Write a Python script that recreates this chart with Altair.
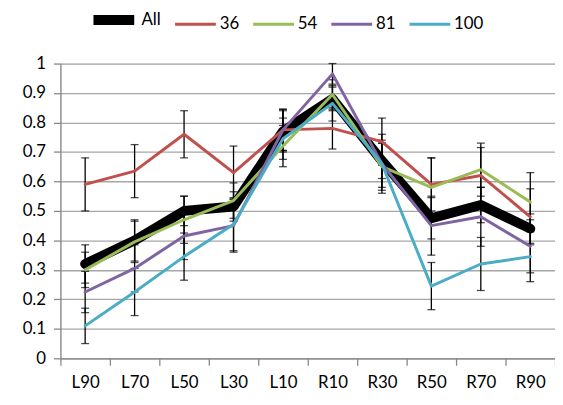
import altair as alt
import pandas as pd

categories = ["L90", "L70", "L50", "L30", "L10", "R10", "R30", "R50", "R70", "R90"]
series_names = ["All", "36", "54", "81", "100"]

vals_all = [0.32, 0.40, 0.50, 0.515, 0.77, 0.88, 0.67, 0.475, 0.52, 0.44]
vals_36 = [0.59, 0.635, 0.76, 0.63, 0.775, 0.78, 0.735, 0.59, 0.62, 0.48]
vals_54 = [0.30, 0.395, 0.47, 0.535, 0.72, 0.895, 0.65, 0.58, 0.64, 0.53]
vals_81 = [0.225, 0.305, 0.415, 0.45, 0.775, 0.965, 0.66, 0.45, 0.48, 0.38]
vals_100 = [0.11, 0.225, 0.345, 0.455, 0.745, 0.865, 0.66, 0.245, 0.32, 0.345]

err_all = [0.065, 0.07, 0.05, 0.05, 0.07, 0.04, 0.06, 0.07, 0.06, 0.05]
err_36 = [0.09, 0.09, 0.08, 0.09, 0.07, 0.07, 0.08, 0.09, 0.095, 0.095]
err_54 = [0.06, 0.07, 0.08, 0.06, 0.07, 0.05, 0.08, 0.10, 0.09, 0.10]
err_81 = [0.07, 0.08, 0.08, 0.09, 0.07, 0.035, 0.08, 0.10, 0.10, 0.09]
err_100 = [0.06, 0.08, 0.08, 0.09, 0.07, 0.06, 0.10, 0.08, 0.09, 0.085]

y_ticks = [0, 0.1, 0.2, 0.3, 0.4, 0.5, 0.6, 0.7, 0.8, 0.9, 1]

colors = ["#000000", "#C0504D", "#9BBB59", "#8064A2", "#4BACC6"]
widths = [10, 3, 3, 3, 3]

all_vals = [vals_all, vals_36, vals_54, vals_81, vals_100]
all_errs = [err_all, err_36, err_54, err_81, err_100]

rows = []
for s, vs, es in zip(series_names, all_vals, all_errs):
    for c, v, e in zip(categories, vs, es):
        rows.append({"series": s, "cat": c, "value": v, "lo": v - e, "hi": v + e})
df = pd.DataFrame(rows)

FONT = "Lato"

x_axis = alt.Axis(labelAngle=0, tickBand="extent", domainColor="#888888",
                  tickColor="#888888", tickSize=7, labelFontSize=17,
                  labelFont=FONT, labelColor="#000000", labelPadding=10,
                  grid=False, domainWidth=1.3, tickWidth=1.3)
x_scale = alt.Scale(paddingInner=0, paddingOuter=0)
y_scale = alt.Scale(domain=[0, 1], nice=False)
y_axis = alt.Axis(values=y_ticks, format="~g", title=None,
                  labelFontSize=17, labelFont=FONT, labelColor="#000000",
                  labelOverlap=False, labelFlush=False,
                  gridColor="#A6A6A6", gridWidth=1.3, domainColor="#888888",
                  tickColor="#888888", tickSize=7, labelPadding=8,
                  domainWidth=1.3, tickWidth=1.3)


def X():
    return alt.X("cat:N", sort=categories, title=None, scale=x_scale, axis=x_axis)


def Y(field):
    return alt.Y(field, scale=y_scale, axis=y_axis, title=None)


color_scale = alt.Scale(domain=series_names, range=colors)
width_scale = alt.Scale(type="ordinal", domain=series_names, range=widths)

base = alt.Chart(df)

bars = base.mark_rule(color="#000000", strokeWidth=1.3).encode(
    x=X(), y=Y("lo:Q"), y2="hi:Q")
caps_hi = base.mark_tick(color="#000000", thickness=1.3, size=8).encode(
    x=X(), y=Y("hi:Q"))
caps_lo = base.mark_tick(color="#000000", thickness=1.3, size=8).encode(
    x=X(), y=Y("lo:Q"))

legend = alt.Legend(title=None, orient="none", direction="horizontal",
                    legendX=28, legendY=-70, symbolType="stroke", symbolSize=1700,
                    labelFontSize=17, labelFont=FONT, labelColor="#000000",
                    labelOffset=2, columnPadding=7)

lines = []
for s in series_names:
    lines.append(
        base.transform_filter(alt.datum.series == s).mark_line(
            strokeCap="round", strokeJoin="round"
        ).encode(
            x=X(),
            y=Y("value:Q"),
            color=alt.Color("series:N", scale=color_scale, legend=legend),
            strokeWidth=alt.StrokeWidth("series:N", scale=width_scale, legend=legend),
        )
    )

chart = alt.layer(bars, caps_hi, caps_lo, *lines).properties(
    width=500, height=298,
    autosize=alt.AutoSizeParams(type="none"),
    padding={"left": 53, "top": 54, "right": 0, "bottom": 40},
).configure_view(stroke=None).configure(background="#ffffff")

chart.save("out.html", embed_options={"renderer": "svg", "actions": False})
